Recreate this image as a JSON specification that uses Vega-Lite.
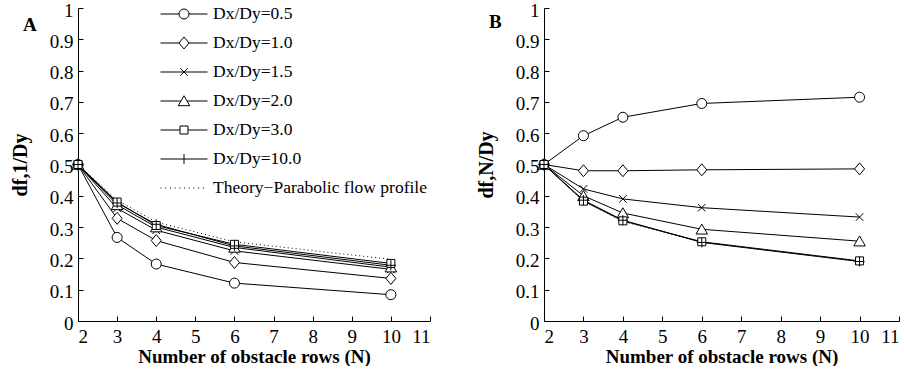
{
  "$schema": "https://vega.github.io/schema/vega-lite/v6.json",
  "background": "white",
  "padding": {"left": 10, "top": -1, "right": 0, "bottom": 0},
  "config": {
    "view": {"stroke": null},
    "font": "Liberation Serif",
    "axis": {
      "grid": false,
      "domainColor": "black",
      "tickColor": "black",
      "labelColor": "black",
      "titleColor": "black",
      "labelFont": "Liberation Serif",
      "titleFont": "Liberation Serif",
      "labelFontSize": 19,
      "titleFontSize": 19,
      "titleFontWeight": "bold",
      "tickSize": -5,
      "domainWidth": 1,
      "tickWidth": 1
    },
    "axisX": {"labelPadding": 11, "titlePadding": 1},
    "axisY": {"labelPadding": 10, "titlePadding": 19, "titleFontSize": 20, "labelOffset": 2}
  },
  "data": {
    "values": [
      {"panel": "A", "series": "Dx/Dy=0.5", "N": 2, "v": 0.5},
      {"panel": "A", "series": "Dx/Dy=0.5", "N": 3, "v": 0.267},
      {"panel": "A", "series": "Dx/Dy=0.5", "N": 4, "v": 0.182},
      {"panel": "A", "series": "Dx/Dy=0.5", "N": 6, "v": 0.121},
      {"panel": "A", "series": "Dx/Dy=0.5", "N": 10, "v": 0.084},
      {"panel": "A", "series": "Dx/Dy=1.0", "N": 2, "v": 0.5},
      {"panel": "A", "series": "Dx/Dy=1.0", "N": 3, "v": 0.328},
      {"panel": "A", "series": "Dx/Dy=1.0", "N": 4, "v": 0.257},
      {"panel": "A", "series": "Dx/Dy=1.0", "N": 6, "v": 0.187},
      {"panel": "A", "series": "Dx/Dy=1.0", "N": 10, "v": 0.136},
      {"panel": "A", "series": "Dx/Dy=1.5", "N": 2, "v": 0.5},
      {"panel": "A", "series": "Dx/Dy=1.5", "N": 3, "v": 0.36},
      {"panel": "A", "series": "Dx/Dy=1.5", "N": 4, "v": 0.29},
      {"panel": "A", "series": "Dx/Dy=1.5", "N": 6, "v": 0.224},
      {"panel": "A", "series": "Dx/Dy=1.5", "N": 10, "v": 0.165},
      {"panel": "A", "series": "Dx/Dy=2.0", "N": 2, "v": 0.5},
      {"panel": "A", "series": "Dx/Dy=2.0", "N": 3, "v": 0.371},
      {"panel": "A", "series": "Dx/Dy=2.0", "N": 4, "v": 0.3},
      {"panel": "A", "series": "Dx/Dy=2.0", "N": 6, "v": 0.235},
      {"panel": "A", "series": "Dx/Dy=2.0", "N": 10, "v": 0.172},
      {"panel": "A", "series": "Dx/Dy=3.0", "N": 2, "v": 0.5},
      {"panel": "A", "series": "Dx/Dy=3.0", "N": 3, "v": 0.38},
      {"panel": "A", "series": "Dx/Dy=3.0", "N": 4, "v": 0.305},
      {"panel": "A", "series": "Dx/Dy=3.0", "N": 6, "v": 0.245},
      {"panel": "A", "series": "Dx/Dy=3.0", "N": 10, "v": 0.184},
      {"panel": "A", "series": "Dx/Dy=10.0", "N": 2, "v": 0.5},
      {"panel": "A", "series": "Dx/Dy=10.0", "N": 3, "v": 0.377},
      {"panel": "A", "series": "Dx/Dy=10.0", "N": 4, "v": 0.309},
      {"panel": "A", "series": "Dx/Dy=10.0", "N": 6, "v": 0.24},
      {"panel": "A", "series": "Dx/Dy=10.0", "N": 10, "v": 0.178},
      {"panel": "A", "series": "Theory−Parabolic flow profile", "N": 2, "v": 0.5},
      {"panel": "A", "series": "Theory−Parabolic flow profile", "N": 3, "v": 0.386},
      {"panel": "A", "series": "Theory−Parabolic flow profile", "N": 4, "v": 0.316},
      {"panel": "A", "series": "Theory−Parabolic flow profile", "N": 6, "v": 0.253},
      {"panel": "A", "series": "Theory−Parabolic flow profile", "N": 10, "v": 0.197},
      {"panel": "B", "series": "Dx/Dy=0.5", "N": 2, "v": 0.5},
      {"panel": "B", "series": "Dx/Dy=0.5", "N": 3, "v": 0.592},
      {"panel": "B", "series": "Dx/Dy=0.5", "N": 4, "v": 0.651},
      {"panel": "B", "series": "Dx/Dy=0.5", "N": 6, "v": 0.695},
      {"panel": "B", "series": "Dx/Dy=0.5", "N": 10, "v": 0.715},
      {"panel": "B", "series": "Dx/Dy=1.0", "N": 2, "v": 0.5},
      {"panel": "B", "series": "Dx/Dy=1.0", "N": 3, "v": 0.48},
      {"panel": "B", "series": "Dx/Dy=1.0", "N": 4, "v": 0.48},
      {"panel": "B", "series": "Dx/Dy=1.0", "N": 6, "v": 0.483},
      {"panel": "B", "series": "Dx/Dy=1.0", "N": 10, "v": 0.486},
      {"panel": "B", "series": "Dx/Dy=1.5", "N": 2, "v": 0.5},
      {"panel": "B", "series": "Dx/Dy=1.5", "N": 3, "v": 0.422},
      {"panel": "B", "series": "Dx/Dy=1.5", "N": 4, "v": 0.39},
      {"panel": "B", "series": "Dx/Dy=1.5", "N": 6, "v": 0.362},
      {"panel": "B", "series": "Dx/Dy=1.5", "N": 10, "v": 0.332},
      {"panel": "B", "series": "Dx/Dy=2.0", "N": 2, "v": 0.5},
      {"panel": "B", "series": "Dx/Dy=2.0", "N": 3, "v": 0.4},
      {"panel": "B", "series": "Dx/Dy=2.0", "N": 4, "v": 0.345},
      {"panel": "B", "series": "Dx/Dy=2.0", "N": 6, "v": 0.293},
      {"panel": "B", "series": "Dx/Dy=2.0", "N": 10, "v": 0.255},
      {"panel": "B", "series": "Dx/Dy=3.0", "N": 2, "v": 0.5},
      {"panel": "B", "series": "Dx/Dy=3.0", "N": 3, "v": 0.383},
      {"panel": "B", "series": "Dx/Dy=3.0", "N": 4, "v": 0.32},
      {"panel": "B", "series": "Dx/Dy=3.0", "N": 6, "v": 0.253},
      {"panel": "B", "series": "Dx/Dy=3.0", "N": 10, "v": 0.192},
      {"panel": "B", "series": "Dx/Dy=10.0", "N": 2, "v": 0.5},
      {"panel": "B", "series": "Dx/Dy=10.0", "N": 3, "v": 0.386},
      {"panel": "B", "series": "Dx/Dy=10.0", "N": 4, "v": 0.322},
      {"panel": "B", "series": "Dx/Dy=10.0", "N": 6, "v": 0.251},
      {"panel": "B", "series": "Dx/Dy=10.0", "N": 10, "v": 0.19},
      {"panel": "B", "series": "Theory−Parabolic flow profile", "N": 2, "v": 0.5},
      {"panel": "B", "series": "Theory−Parabolic flow profile", "N": 3, "v": 0.385},
      {"panel": "B", "series": "Theory−Parabolic flow profile", "N": 4, "v": 0.318},
      {"panel": "B", "series": "Theory−Parabolic flow profile", "N": 6, "v": 0.252},
      {"panel": "B", "series": "Theory−Parabolic flow profile", "N": 10, "v": 0.19}
    ]
  },
  "resolve": {"scale": {"shape": "independent", "x": "independent", "y": "independent"}},
  "spacing": 45,
  "hconcat": [
    {
      "width": 352,
      "height": 313,
      "title": {"text": "A", "anchor": "start", "frame": "group", "orient": "top", "dx": -55, "dy": 50, "offset": 0, "baseline": "alphabetic", "fontSize": 19, "fontWeight": "bold", "font": "Liberation Serif", "color": "black"},
      "transform": [{"filter": "datum.panel === 'A'"}],
      "encoding": {
        "x": {"field": "N", "type": "quantitative", "scale": {"domain": [2, 11], "nice": false}, "axis": {"values": [2, 3, 4, 5, 6, 7, 8, 9, 10, 11], "title": "Number of obstacle rows (N)"}},
        "y": {"field": "v", "type": "quantitative", "scale": {"domain": [0, 1], "nice": false}, "axis": {"values": [0, 0.1, 0.2, 0.3, 0.4, 0.5, 0.6, 0.7, 0.8, 0.9, 1], "format": "~g", "title": "df,1/Dy"}}
      },
      "layer": [
        {
          "transform": [{"filter": "datum.series !== 'Theory−Parabolic flow profile'"}],
          "mark": {"type": "line", "color": "black", "strokeWidth": 1},
          "encoding": {"detail": {"field": "series"}}
        },
        {
          "transform": [{"filter": "datum.series === 'Theory−Parabolic flow profile'"}],
          "mark": {"type": "line", "color": "black", "strokeWidth": 1, "strokeDash": [1, 3]},
          "encoding": {"detail": {"field": "series"}}
        },
        {
          "transform": [{"filter": "datum.series !== 'Theory−Parabolic flow profile'"}],
          "mark": {"type": "point", "filled": false, "fill": "white", "stroke": "black", "strokeWidth": 1, "size": 100, "opacity": 1},
          "encoding": {
            "shape": {"field": "series", "type": "nominal", "legend": null,
              "scale": {"domain": ["Dx/Dy=0.5", "Dx/Dy=1.0", "Dx/Dy=1.5", "Dx/Dy=2.0", "Dx/Dy=3.0", "Dx/Dy=10.0"],
                "range": ["circle", "M-1,0L0,-1.2L1,0L0,1.2Z", "M-0.75,-0.75L0.75,0.75M-0.75,0.75L0.75,-0.75", "M0,-1.05L1.15,0.95H-1.15Z", "M-0.8,-0.8H0.8V0.8H-0.8Z", "M-1,0H1M0,-1V1"]}}
          }
        },
        {
          "mark": {"type": "point", "filled": false, "color": "black", "opacity": 0},
          "encoding": {
            "shape": {"field": "series", "type": "nominal",
              "scale": {"domain": ["Dx/Dy=0.5", "Dx/Dy=1.0", "Dx/Dy=1.5", "Dx/Dy=2.0", "Dx/Dy=3.0", "Dx/Dy=10.0", "Theory−Parabolic flow profile"],
                "range": [
                  "M-1,0H-0.213M0.213,0H1M-0.213,0A0.213,0.213,0,1,1,0.213,0A0.213,0.213,0,1,1,-0.213,0",
                  "M-1,0H-0.213M0.213,0H1M-0.213,0L0,-0.255L0.213,0L0,0.255Z",
                  "M-1,0H1M-0.16,-0.16L0.16,0.16M-0.16,0.16L0.16,-0.16",
                  "M-1,0H-0.13M0.13,0H1M0,-0.224L0.245,0.2H-0.245Z",
                  "M-1,0H-0.17M0.17,0H1M-0.17,-0.17H0.17V0.17H-0.17Z",
                  "M-1,0H1M0,-0.213V0.213",
                  "M-1,0h0.045M-0.8,0h0.045M-0.6,0h0.045M-0.4,0h0.045M-0.2,0h0.045M0,0h0.045M0.2,0h0.045M0.4,0h0.045M0.6,0h0.045M0.8,0h0.045"
                ]},
              "legend": {"title": null, "orient": "none", "legendX": 82, "legendY": -8.5, "padding": 0, "labelFont": "Liberation Serif", "labelFontSize": 17.5, "labelColor": "black", "labelLimit": 400, "labelOffset": 5, "symbolSize": 2209, "symbolStrokeWidth": 1, "symbolStrokeColor": "black", "symbolFillColor": "white", "symbolOpacity": 1, "rowPadding": 0, "clipHeight": 29}
            }
          }
        }
      ],
      "resolve": {"scale": {"shape": "independent"}}
    },
    {
      "width": 355,
      "height": 313,
      "title": {"text": "B", "anchor": "start", "frame": "group", "orient": "top", "dx": -55, "dy": 46, "offset": 0, "baseline": "alphabetic", "fontSize": 19, "fontWeight": "bold", "font": "Liberation Serif", "color": "black"},
      "transform": [{"filter": "datum.panel === 'B'"}],
      "encoding": {
        "x": {"field": "N", "type": "quantitative", "scale": {"domain": [2, 11], "nice": false}, "axis": {"values": [2, 3, 4, 5, 6, 7, 8, 9, 10, 11], "title": "Number of obstacle rows (N)"}},
        "y": {"field": "v", "type": "quantitative", "scale": {"domain": [0, 1], "nice": false}, "axis": {"values": [0, 0.1, 0.2, 0.3, 0.4, 0.5, 0.6, 0.7, 0.8, 0.9, 1], "format": "~g", "title": "df,N/Dy"}}
      },
      "layer": [
        {
          "transform": [{"filter": "datum.series !== 'Theory−Parabolic flow profile'"}],
          "mark": {"type": "line", "color": "black", "strokeWidth": 1},
          "encoding": {"detail": {"field": "series"}}
        },
        {
          "transform": [{"filter": "datum.series === 'Theory−Parabolic flow profile'"}],
          "mark": {"type": "line", "color": "black", "strokeWidth": 1, "strokeDash": [1, 3]},
          "encoding": {"detail": {"field": "series"}}
        },
        {
          "transform": [{"filter": "datum.series !== 'Theory−Parabolic flow profile'"}],
          "mark": {"type": "point", "filled": false, "fill": "white", "stroke": "black", "strokeWidth": 1, "size": 100, "opacity": 1},
          "encoding": {
            "shape": {"field": "series", "type": "nominal", "legend": null,
              "scale": {"domain": ["Dx/Dy=0.5", "Dx/Dy=1.0", "Dx/Dy=1.5", "Dx/Dy=2.0", "Dx/Dy=3.0", "Dx/Dy=10.0"],
                "range": ["circle", "M-1,0L0,-1.2L1,0L0,1.2Z", "M-0.75,-0.75L0.75,0.75M-0.75,0.75L0.75,-0.75", "M0,-1.05L1.15,0.95H-1.15Z", "M-0.8,-0.8H0.8V0.8H-0.8Z", "M-1,0H1M0,-1V1"]}}
          }
        }
      ]
    }
  ]
}
